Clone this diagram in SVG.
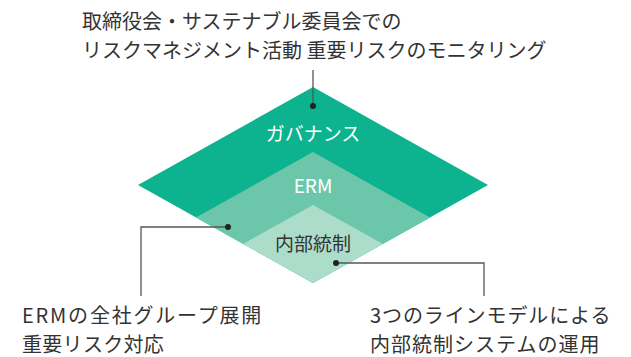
<svg xmlns="http://www.w3.org/2000/svg" width="631" height="357" viewBox="0 0 631 357">
<style>
.t{font-family:"Noto Sans CJK JP","Noto Sans",sans-serif;font-size:20px;fill:#333333}
.w{font-family:"Noto Sans CJK JP","Noto Sans",sans-serif;font-size:19px;fill:#ffffff;text-anchor:middle}
.d{font-family:"Noto Sans CJK JP","Noto Sans",sans-serif;font-size:19px;fill:#333333;text-anchor:middle}
.ln{fill:none;stroke:#555555;stroke-width:1.3}
.dot{fill:#222222}
</style>
<rect width="631" height="357" fill="#ffffff"/>
<g id="governance">
<polygon points="313,87 488,185 313,283 138,185" fill="#0db38e"/>
<text class="w" x="313" y="141">ガバナンス</text>
</g>
<g id="erm">
<polygon points="313,152 430,217.5 313,283 196,217.5" fill="#6cc7aa"/>
<text class="w" x="313" y="193">ERM</text>
</g>
<g id="internal-control">
<polygon points="313,205 383,244 313,283 243,244" fill="#acdcca"/>
<text class="d" x="313" y="251">内部統制</text>
</g>
<g id="connectors">
<line class="ln" x1="313" y1="70" x2="313" y2="106"/>
<circle class="dot" cx="313" cy="106" r="3"/>
<polyline class="ln" points="228,227 141,227 141,296"/>
<circle class="dot" cx="228" cy="227" r="3"/>
<polyline class="ln" points="336,263 484,263 484,296"/>
<circle class="dot" cx="336" cy="263" r="3"/>
</g>
<g id="label-top">
<text class="t" x="82" y="29">取締役会・サステナブル委員会での</text>
<text class="t" x="82" y="58">リスクマネジメント活動 重要リスクのモニタリング</text>
</g>
<g id="label-left">
<text class="t" x="22" y="323" letter-spacing="1.8">ERMの全社グループ展開</text>
<text class="t" x="22" y="352" letter-spacing="0.3">重要リスク対応</text>
</g>
<g id="label-right">
<text class="t" x="370" y="323" letter-spacing="0.9">3つのラインモデルによる</text>
<text class="t" x="370" y="352" letter-spacing="1.0">内部統制システムの運用</text>
</g>
</svg>
